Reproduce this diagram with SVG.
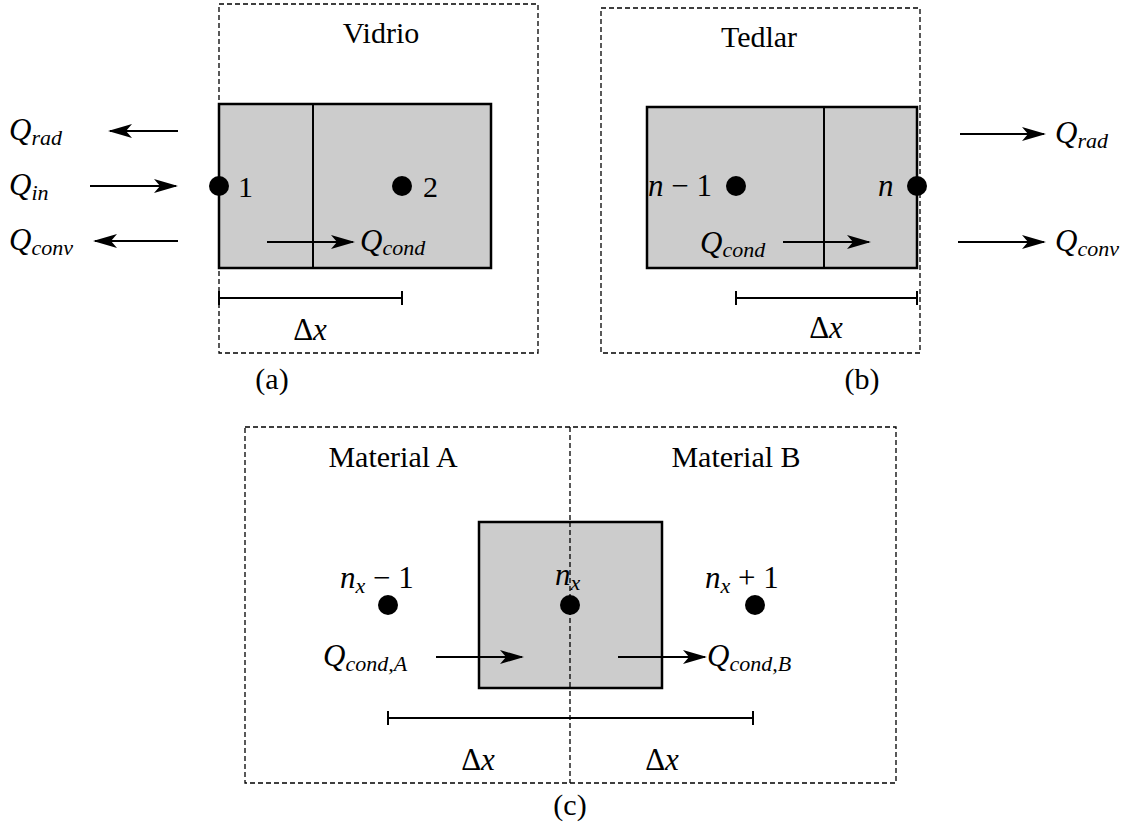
<svg xmlns="http://www.w3.org/2000/svg" width="1135" height="831" viewBox="0 0 1135 831">
<style>
.frame{fill:none;stroke:#000;stroke-width:1.3;stroke-dasharray:5,3}
.cell{fill:#cccccc;stroke:#000;stroke-width:2.5}
.ln{stroke:#000;stroke-width:2;fill:none}
.arr{stroke:#000;stroke-width:2;fill:none;marker-end:url(#ah)}
.dot{fill:#000}
.t{font-family:"Liberation Serif",serif;font-size:30px;fill:#000}
.m{font-family:"Liberation Serif",serif;font-style:italic;font-size:31px;fill:#000}
.s{font-size:22px}
.c{text-anchor:middle}
</style>
<defs>
<marker id="ah" markerUnits="userSpaceOnUse" markerWidth="24" markerHeight="14" refX="22" refY="7" orient="auto">
<path d="M0,0 L24,7 L0,14 L6,7 Z" fill="#000"/>
</marker>
</defs>

<g id="panel-a">
<rect class="frame" x="219" y="4" width="319" height="349"/>
<text class="t c" x="381" y="43">Vidrio</text>
<rect class="cell" x="219" y="104" width="272" height="164"/>
<line class="ln" x1="313" y1="104" x2="313" y2="268"/>
<circle class="dot" cx="219" cy="186" r="10"/>
<text class="t" x="238" y="197">1</text>
<circle class="dot" cx="402" cy="186" r="10"/>
<text class="t" x="423" y="197">2</text>
<text class="m" x="360" y="251">Q<tspan class="s" dy="4">cond</tspan></text>
<line class="ln" x1="219" y1="298" x2="402" y2="298"/>
<line class="ln" x1="219" y1="291" x2="219" y2="305"/>
<line class="ln" x1="402" y1="291" x2="402" y2="305"/>
<text class="m c" x="310" y="340"><tspan font-style="normal">Δ</tspan>x</text>
<text class="t c" x="272" y="389">(a)</text>
<text class="m" x="9" y="140">Q<tspan class="s" dy="5">rad</tspan></text>
<text class="m" x="9" y="195">Q<tspan class="s" dy="5">in</tspan></text>
<text class="m" x="9" y="250">Q<tspan class="s" dy="5">conv</tspan></text>
</g>

<g id="panel-b">
<rect class="frame" x="601" y="8" width="319" height="345"/>
<text class="t c" x="759" y="47">Tedlar</text>
<rect class="cell" x="647" y="107" width="270" height="161"/>
<line class="ln" x1="824" y1="107" x2="824" y2="268"/>
<circle class="dot" cx="736" cy="186" r="10"/>
<text class="m" x="648" y="196">n <tspan font-style="normal">− 1</tspan></text>
<circle class="dot" cx="917" cy="186" r="10"/>
<text class="m" x="878" y="196">n</text>
<text class="m" x="700" y="253">Q<tspan class="s" dy="4">cond</tspan></text>
<line class="ln" x1="736" y1="298" x2="917" y2="298"/>
<line class="ln" x1="736" y1="291" x2="736" y2="305"/>
<line class="ln" x1="917" y1="291" x2="917" y2="305"/>
<text class="m c" x="826" y="338"><tspan font-style="normal">Δ</tspan>x</text>
<text class="t c" x="862" y="389">(b)</text>
<text class="m" x="1055" y="143">Q<tspan class="s" dy="5">rad</tspan></text>
<text class="m" x="1055" y="251">Q<tspan class="s" dy="5">conv</tspan></text>
</g>

<g id="panel-c">
<rect class="frame" x="245" y="427" width="651" height="356"/>
<line class="frame" x1="570" y1="427" x2="570" y2="783"/>
<text class="t c" x="393" y="467">Material A</text>
<text class="t c" x="736" y="467">Material B</text>
<rect class="cell" x="479" y="522" width="183" height="166"/>
<line class="frame" x1="570" y1="522" x2="570" y2="688"/>
<circle class="dot" cx="388" cy="605" r="10"/>
<circle class="dot" cx="570" cy="605" r="10"/>
<circle class="dot" cx="755" cy="605" r="10"/>
<text class="m" x="340" y="588">n<tspan class="s" dy="5">x</tspan><tspan font-style="normal" dy="-5"> − 1</tspan></text>
<text class="m" x="555" y="585">n<tspan class="s" dy="5">x</tspan></text>
<text class="m" x="705" y="588">n<tspan class="s" dy="5">x</tspan><tspan font-style="normal" dy="-5"> + 1</tspan></text>
<text class="m" x="323" y="666">Q<tspan class="s" dy="5">cond,A</tspan></text>
<text class="m" x="707" y="666">Q<tspan class="s" dy="5">cond,B</tspan></text>
<line class="ln" x1="388" y1="718" x2="753" y2="718"/>
<line class="ln" x1="388" y1="711" x2="388" y2="725"/>
<line class="ln" x1="753" y1="711" x2="753" y2="725"/>
<text class="m c" x="478" y="770"><tspan font-style="normal">Δ</tspan>x</text>
<text class="m c" x="662" y="770"><tspan font-style="normal">Δ</tspan>x</text>
<text class="t c" x="570" y="815">(c)</text>
</g>

<g id="connectors">
<line class="arr" x1="178" y1="131" x2="110" y2="131"/>
<line class="arr" x1="90" y1="186" x2="176" y2="186"/>
<line class="arr" x1="178" y1="241" x2="95" y2="241"/>
<line class="arr" x1="267" y1="242" x2="353" y2="242"/>
<line class="arr" x1="783" y1="242" x2="869" y2="242"/>
<line class="arr" x1="960" y1="134" x2="1044" y2="134"/>
<line class="arr" x1="958" y1="242" x2="1044" y2="242"/>
<line class="arr" x1="436" y1="657" x2="522" y2="657"/>
<line class="arr" x1="618" y1="657" x2="705" y2="657"/>
</g>
</svg>
